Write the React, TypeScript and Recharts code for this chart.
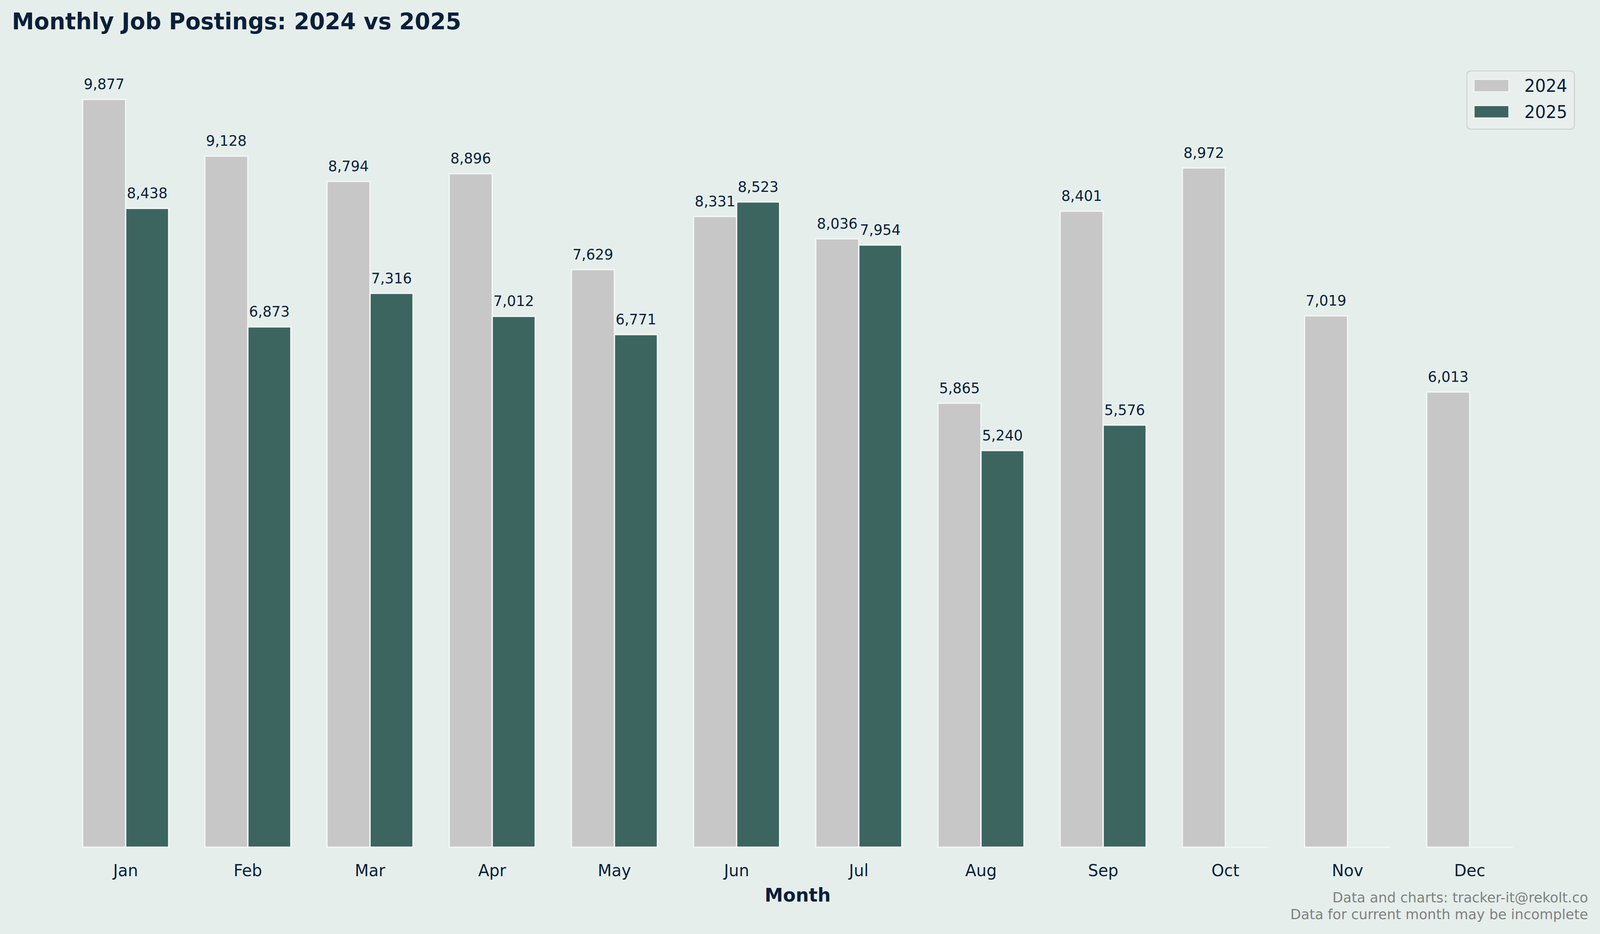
import React from 'react';
import { BarChart, Bar, XAxis, YAxis, Legend, LabelList } from 'recharts';

const months = ['Jan', 'Feb', 'Mar', 'Apr', 'May', 'Jun', 'Jul', 'Aug', 'Sep', 'Oct', 'Nov', 'Dec'];
const postings2024 = [9877, 9128, 8794, 8896, 7629, 8331, 8036, 5865, 8401, 8972, 7019, 6013];
const postings2025 = [8438, 6873, 7316, 7012, 6771, 8523, 7954, 5240, 5576, 0, 0, 0];
const yDomain = [0, 10400];

const data = months.map((month, i) => ({ month, y2024: postings2024[i], y2025: postings2025[i] }));

const W = 4164;
const H = 2390;
const BG = '#E5EEEB';
const NAVY = '#0A1F3A';
const EDGE = '#F3F6F5';
const C2024 = '#C6C7C6';
const C2025 = '#3C6560';
const FONT = '"DejaVu Sans", sans-serif';

// the browser caps the viewport width, so squeeze horizontally to fit
const sx = typeof window !== 'undefined' ? Math.min(1, window.innerWidth / W) : 1;

const BarShape = (props: any) => {
  const { x, y, width, height, fill } = props;
  if (!height) {
    return <line x1={x} x2={x + width} y1={y} y2={y} stroke={EDGE} strokeWidth={3.5} />;
  }
  return <rect x={x} y={y} width={width} height={height} fill={fill} stroke={EDGE} strokeWidth={3.5} />;
};

const MonthTick = (props: any) => {
  const { x, y, payload } = props;
  return (
    <text x={x} y={y + 74} textAnchor="middle" fill={NAVY} fontSize={42} fontFamily={FONT}>
      {payload.value}
    </text>
  );
};

const renderLegend = (props: any) => {
  const items = props.payload || [];
  return (
    <svg width={283} height={152} style={{ display: 'block' }}>
      <rect x={1.5} y={1.5} width={280} height={149} rx={10} fill="#E8EFEC" stroke="#D3D5D4" strokeWidth={3} />
      {items.map((it: any, i: number) => (
        <g key={it.value}>
          <rect x={20} y={23 + i * 67} width={91} height={32} fill={it.color} stroke={EDGE} strokeWidth={3} />
          <text x={151} y={55 + i * 67} fill={NAVY} fontSize={44} fontFamily={FONT}>
            {it.value}
          </text>
        </g>
      ))}
    </svg>
  );
};

const fmt = (v: any) => (v ? Number(v).toLocaleString('en-US') : '');

export default function App() {
  return (
    <div
      style={{
        position: 'fixed',
        left: 0,
        top: 0,
        width: W,
        height: H,
        overflow: 'hidden',
        background: BG,
        fontFamily: FONT,
        transform: `scale(${sx}, 1)`,
        transformOrigin: '0 0',
      }}
    >
      <style>{'html, body { margin: 0; padding: 0; overflow: hidden; background: ' + BG + '; }'}</style>
      <BarChart
        width={W}
        height={H}
        data={data}
        margin={{ top: 153, left: 168, right: 180, bottom: 162 }}
        barGap={0}
        barSize={112}
      >
        <XAxis
          dataKey="month"
          height={60}
          axisLine={false}
          tickLine={false}
          tickSize={0}
          tickMargin={0}
          interval={0}
          tick={<MonthTick />}
        />
        <YAxis hide domain={yDomain} />
        <Legend
          layout="vertical"
          align="center"
          verticalAlign="middle"
          content={renderLegend}
          wrapperStyle={{ left: 3816, top: 180, width: 283, height: 152 }}
        />
        <Bar dataKey="y2024" name="2024" fill={C2024} shape={<BarShape />} isAnimationActive={false}>
          <LabelList dataKey="y2024" position="top" offset={26} formatter={fmt} fill={NAVY} fontSize={37} fontFamily={FONT} />
        </Bar>
        <Bar dataKey="y2025" name="2025" fill={C2025} shape={<BarShape />} isAnimationActive={false}>
          <LabelList dataKey="y2025" position="top" offset={26} formatter={fmt} fill={NAVY} fontSize={37} fontFamily={FONT} />
        </Bar>
      </BarChart>
      <svg width={W} height={H} style={{ position: 'absolute', left: 0, top: 0, pointerEvents: 'none' }}>
        <text x={31} y={75} fill={NAVY} fontSize={58} fontWeight="bold" fontFamily={FONT}>
          Monthly Job Postings: 2024 vs 2025
        </text>
        <text x={2076} y={2307} fill={NAVY} fontSize={48} fontWeight="bold" fontFamily={FONT} textAnchor="middle">
          Month
        </text>
        <text x={4133} y={2309} fill="#808080" fontSize={36} fontFamily={FONT} textAnchor="end">
          Data and charts: tracker-it@rekolt.co
        </text>
        <text x={4133} y={2352} fill="#808080" fontSize={36} fontFamily={FONT} textAnchor="end">
          Data for current month may be incomplete
        </text>
      </svg>
    </div>
  );
}
